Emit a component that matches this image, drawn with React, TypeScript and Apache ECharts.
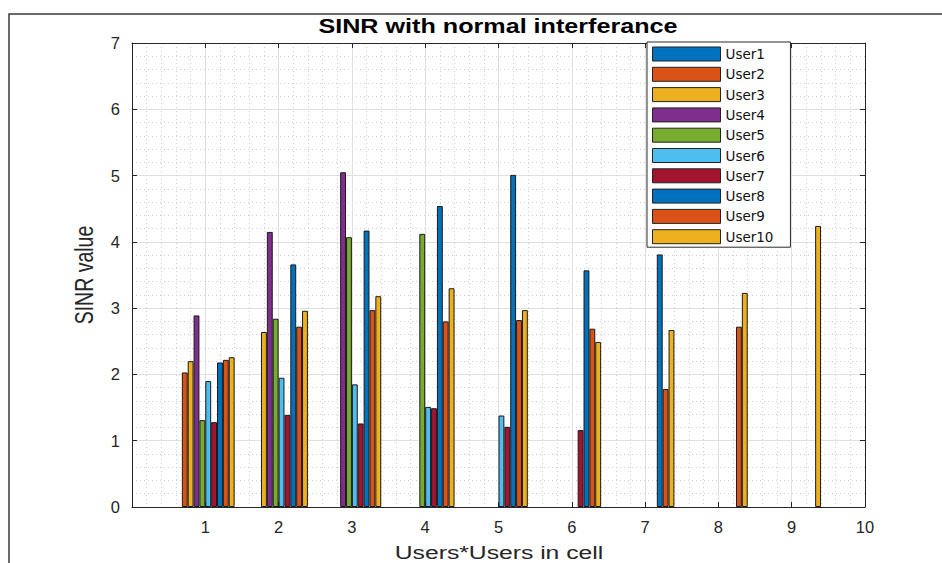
import React, { useEffect, useRef } from 'react';
import * as echarts from 'echarts';

const groups: number[] = [1, 2, 3, 4, 5, 6, 7, 8, 9, 10];
const userNames: string[] = ['User1', 'User2', 'User3', 'User4', 'User5', 'User6', 'User7', 'User8', 'User9', 'User10'];

const user1: (number | null)[] = [null, null, null, null, null, null, null, null, null, null];
const user2: (number | null)[] = [2.03, null, null, null, null, null, null, null, null, null];
const user3: (number | null)[] = [2.2, 2.64, null, null, null, null, null, null, null, null];
const user4: (number | null)[] = [2.89, 4.15, 5.05, null, null, null, null, null, null, null];
const user5: (number | null)[] = [1.31, 2.84, 4.07, 4.12, null, null, null, null, null, null];
const user6: (number | null)[] = [1.9, 1.95, 1.85, 1.51, 1.38, null, null, null, null, null];
const user7: (number | null)[] = [1.28, 1.39, 1.26, 1.49, 1.21, 1.16, null, null, null, null];
const user8: (number | null)[] = [2.18, 3.66, 4.17, 4.54, 5.01, 3.57, 3.81, null, null, null];
const user9: (number | null)[] = [2.22, 2.72, 2.97, 2.8, 2.82, 2.69, 1.78, 2.72, null, null];
const user10: (number | null)[] = [2.26, 2.96, 3.18, 3.3, 2.97, 2.49, 2.67, 3.23, 4.24, null];

const userColors: string[] = ['#0072BD', '#D95319', '#EDB120', '#7E2F8E', '#77AC30', '#4DBEEE', '#A2142F', '#0072BD', '#D95319', '#EDB120'];

const titleText = 'SINR with normal interferance';
const xAxisName = 'Users*Users in cell';
const yAxisName = 'SINR value';

export default function App() {
  const ref = useRef<HTMLDivElement>(null);
  useEffect(() => {
    document.body.style.margin = '0';
    const chart = echarts.init(ref.current!, null, { renderer: 'svg' });
    const font = "'Liberation Sans', Arial, Helvetica, sans-serif";
    const legendFont = "'DejaVu Sans', 'Liberation Sans', sans-serif";
    const axisColor = '#262626';
    const allUsers = [user1, user2, user3, user4, user5, user6, user7, user8, user9, user10];
    const series = allUsers.map((vals, k) => ({
      name: userNames[k],
      type: 'bar',
      xAxisIndex: 0,
      yAxisIndex: 0,
      barGap: '0%',
      barCategoryGap: '20%',
      itemStyle: { color: userColors[k], borderColor: '#1a1a1a', borderWidth: 1 },
      data: groups.map((g, i) => [g, vals[i]]).filter((d) => d[1] != null),
    }));

    const splitLine = { show: true, lineStyle: { color: '#e0e0e0', width: 1, type: 'solid' } };
    const minorSplitLine = { show: true, lineStyle: { color: '#cdcdcd', width: 1, type: [1, 3] } };

    chart.setOption({
      animation: false,
      backgroundColor: '#ffffff',
      grid: { left: 132, top: 43, right: 77, bottom: 56, containLabel: false },
      legend: {
        orient: 'vertical',
        left: 647,
        top: 42,
        icon: 'rect',
        itemWidth: 68,
        itemHeight: 14,
        itemGap: 5.3,
        padding: [4.5, 17, 3, 5],
        backgroundColor: '#ffffff',
        borderColor: '#2b2b2b',
        borderWidth: 1,
        itemStyle: { borderColor: '#222', borderWidth: 1 },
        textStyle: { fontFamily: legendFont, fontSize: 13.5, color: '#111', lineHeight: 14 },
        data: userNames,
      },
      xAxis: [
        {
          type: 'value',
          min: 0,
          max: 10,
          interval: 1,
          position: 'bottom',
          axisLine: { show: true, onZero: false, lineStyle: { color: axisColor, width: 1 } },
          axisTick: { show: true, inside: true, length: 5, lineStyle: { color: axisColor } },
          axisLabel: {
            show: true,
            margin: 11,
            fontFamily: font,
            fontSize: 16.5,
            color: axisColor,
            formatter: (v: number) => (v === 0 ? '' : String(v)),
          },
          splitLine,
          minorTick: { show: false, splitNumber: 5 },
          minorSplitLine,
        },
        {
          type: 'value',
          min: 0,
          max: 10,
          interval: 1,
          position: 'top',
          axisLine: { show: true, onZero: false, lineStyle: { color: axisColor, width: 1 } },
          axisTick: { show: true, inside: true, length: 5, lineStyle: { color: axisColor } },
          axisLabel: { show: false },
          splitLine: { show: false },
        },
      ],
      yAxis: [
        {
          type: 'value',
          min: 0,
          max: 7,
          interval: 1,
          position: 'left',
          axisLine: { show: true, onZero: false, lineStyle: { color: axisColor, width: 1 } },
          axisTick: { show: true, inside: true, length: 5, lineStyle: { color: axisColor } },
          axisLabel: { show: true, margin: 12, fontFamily: font, fontSize: 16.5, color: axisColor },
          splitLine,
          minorTick: { show: false, splitNumber: 5 },
          minorSplitLine,
        },
        {
          type: 'value',
          min: 0,
          max: 7,
          interval: 1,
          position: 'right',
          axisLine: { show: true, onZero: false, lineStyle: { color: axisColor, width: 1 } },
          axisTick: { show: true, inside: true, length: 5, lineStyle: { color: axisColor } },
          axisLabel: { show: false },
          splitLine: { show: false },
        },
      ],
      graphic: [
        {
          type: 'polyline',
          silent: true,
          shape: { points: [[9, 563], [9, 14], [942, 14]] },
          style: { stroke: '#3a3a3a', lineWidth: 1.5, fill: null },
        },
        {
          type: 'text',
          x: 498,
          y: 26.5,
          scaleX: 1.29,
          style: {
            text: titleText,
            fontFamily: font,
            fontSize: 19.5,
            fontWeight: 'bold',
            fill: '#000',
            textAlign: 'center',
            align: 'center',
            textVerticalAlign: 'middle',
            verticalAlign: 'middle',
          },
        },
        {
          type: 'text',
          x: 499,
          y: 552.5,
          scaleX: 1.3,
          style: {
            text: xAxisName,
            fontFamily: font,
            fontSize: 19,
            fill: axisColor,
            textAlign: 'center',
            align: 'center',
            textVerticalAlign: 'middle',
            verticalAlign: 'middle',
          },
        },
        {
          type: 'text',
          x: 85,
          y: 275,
          rotation: Math.PI / 2,
          scaleY: 1.3,
          style: {
            text: yAxisName,
            fontFamily: font,
            fontSize: 19.5,
            fill: axisColor,
            textAlign: 'center',
            align: 'center',
            textVerticalAlign: 'middle',
            verticalAlign: 'middle',
          },
        },
      ],
      series,
    });
    return () => chart.dispose();
  }, []);
  return <div ref={ref} style={{ width: 942, height: 563 }} />;
}
